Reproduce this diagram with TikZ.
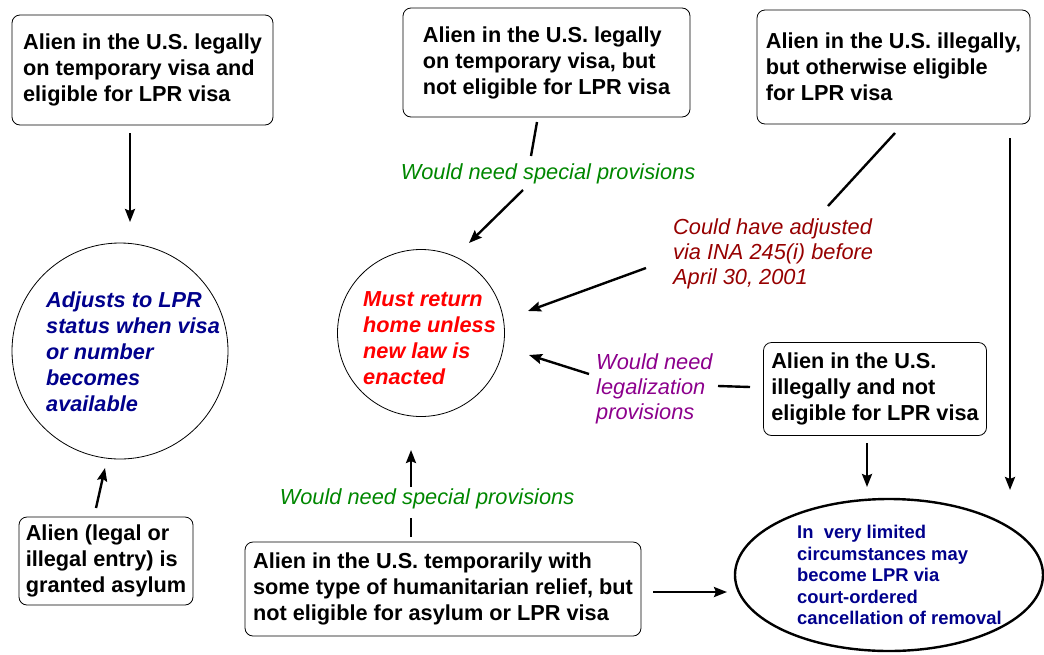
\documentclass[tikz,border=0pt]{standalone}
\usepackage{fontspec}
\setmainfont{Liberation Sans}
\usetikzlibrary{arrows.meta,shapes.geometric}
\definecolor{navyblue}{RGB}{0,0,140}
\definecolor{okgreen}{RGB}{0,135,0}
\definecolor{darkred}{RGB}{150,0,0}
\definecolor{plum}{RGB}{140,0,140}
\tikzset{
  status/.style={draw, rounded corners=8pt, align=left, inner sep=0pt, line width=0.8pt,
    font=\bfseries\fontsize{21.7}{26}\selectfont},
  outcome/.style={draw, circle, line width=0.8pt},
  outtext/.style={align=left, inner sep=0pt, font=\bfseries\itshape\fontsize{21.7}{26}\selectfont},
  note/.style={align=left, inner sep=0pt, font=\itshape\fontsize{21.8}{25}\selectfont},
  flow/.style={-{Stealth[length=13pt,width=10pt,inset=2pt]}, line width=2.4pt},
  link/.style={line width=2.4pt}
}
\begin{document}
\begin{tikzpicture}[x=1pt,y=-1pt]
    \useasboundingbox (0,0) rectangle (1044,654);
    %% Status boxes
    \node[status, minimum width=261, minimum height=110] (legalElig) at (142.5,70)
        {Alien in the U.S. legally\\on temporary visa and\\eligible for LPR visa};
    \node[status, minimum width=287, minimum height=109] (legalNot) at (546.5,62.5)
        {Alien in the U.S. legally\\on temporary visa, but\\not eligible for LPR visa};
    \node[status, minimum width=273, minimum height=114] (illegalElig) at (893.5,67)
        {Alien in the U.S. illegally,\\but otherwise eligible\\for LPR visa};
    \node[status, minimum width=223, minimum height=93] (illegalNot) at (875,389)
        {Alien in the U.S.\\illegally and not\\eligible for LPR visa};
    \node[status, minimum width=174, minimum height=88] (asylum) at (106,561)
        {Alien (legal or\\illegal entry) is\\granted asylum};
    \node[status, minimum width=396, minimum height=94] (humanit) at (443,589)
        {Alien in the U.S. temporarily with\\some type of humanitarian relief, but\\not eligible for asylum or LPR visa};
    %% Outcomes
    \node[outcome, minimum size=216] (adjusts) at (120,351) {};
    \node[outtext, text=navyblue, anchor=west] (adjustsText) at (46,352)
        {Adjusts to LPR\\status when visa\\or number\\becomes\\available};
    \node[outcome, minimum size=167] (mustReturn) at (421,333) {};
    \node[outtext, text=red, anchor=west] (mustReturnText) at (363,338)
        {Must return\\home unless\\new law is\\enacted};
    \node[draw, ellipse, line width=2.4pt, minimum width=308, minimum height=152] (cancel) at (889,575) {};
    \node[align=left, inner sep=0pt, anchor=west, text=navyblue,
        font=\bfseries\fontsize{18.4}{21.5}\selectfont] (cancelText) at (797,575)
        {In~ very limited\\circumstances may\\become LPR via\\court-ordered\\cancellation of removal};
    %% Labels
    \node[note, text=okgreen] (specialTop) at (548,174) {Would need special provisions};
    \node[note, text=darkred, anchor=west] (adjust245) at (673,254)
        {Could have adjusted\\via INA 245(i) before\\April 30, 2001};
    \node[note, text=plum, anchor=west] (legalize) at (596,389)
        {Would need\\legalization\\provisions};
    \node[note, text=okgreen] (specialBot) at (427,499) {Would need special provisions};
    %% Connector ends
    \coordinate (a1) at (130,133);  \coordinate (a2) at (130,222);
    \coordinate (b1) at (537,122);  \coordinate (b2) at (531,156);
    \coordinate (b3) at (523,190);  \coordinate (b4) at (469,243);
    \coordinate (c1) at (895,133);  \coordinate (c2) at (828,206);
    \coordinate (c3) at (646,268);  \coordinate (c4) at (528,311);
    \coordinate (c5) at (1010,138); \coordinate (c6) at (1010,490);
    \coordinate (d1) at (750,387);  \coordinate (d2) at (718,386);
    \coordinate (d3) at (589,374);  \coordinate (d4) at (529,355);
    \coordinate (d5) at (867,443);  \coordinate (d6) at (867,487);
    \coordinate (e1) at (96,508);   \coordinate (e2) at (105,468);
    \coordinate (f1) at (411,537);  \coordinate (f2) at (411,518);
    \coordinate (f3) at (411,487);  \coordinate (f4) at (411,450);
    \coordinate (f5) at (653,592);  \coordinate (f6) at (727,592);
    %% Connectors
    \draw[flow] (a1) -- (a2);
    \draw[link] (b1) -- (b2);
    \draw[flow] (b3) -- (b4);
    \draw[link] (c1) -- (c2);
    \draw[flow] (c3) -- (c4);
    \draw[flow] (c5) -- (c6);
    \draw[link] (d1) -- (d2);
    \draw[flow] (d3) -- (d4);
    \draw[flow] (d5) -- (d6);
    \draw[flow] (e1) -- (e2);
    \draw[link] (f1) -- (f2);
    \draw[flow] (f3) -- (f4);
    \draw[flow] (f5) -- (f6);
\end{tikzpicture}
\end{document}
